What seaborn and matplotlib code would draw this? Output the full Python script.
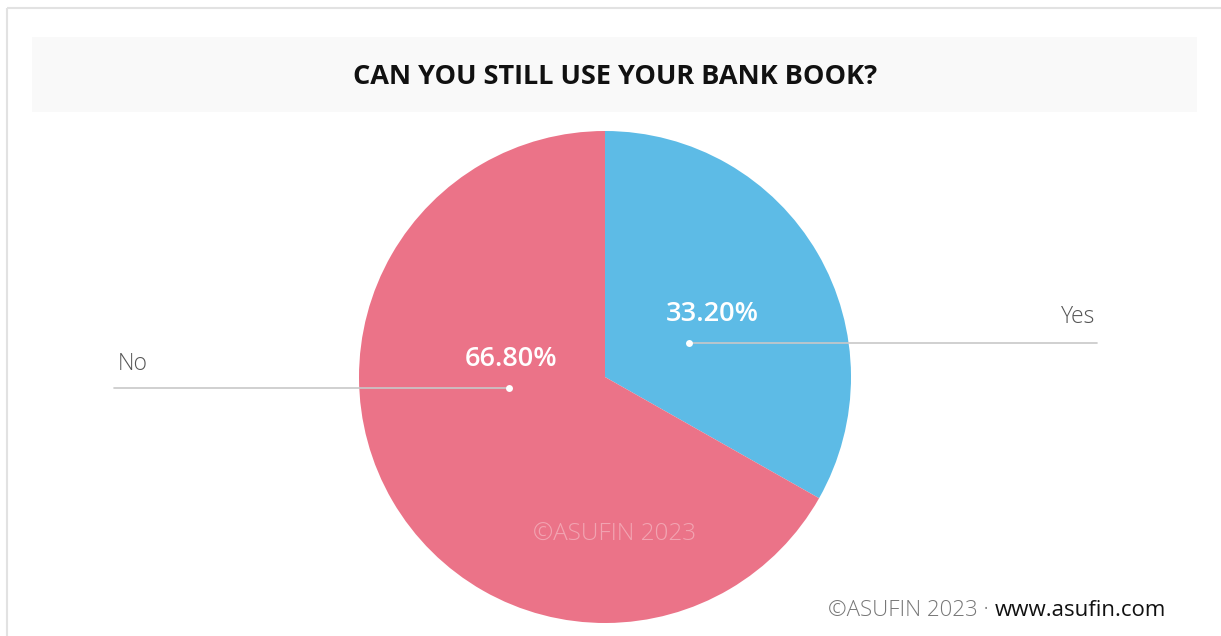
import numpy as np
import matplotlib
matplotlib.use("Agg")
import matplotlib.pyplot as plt
import seaborn as sns
from matplotlib.patches import Rectangle

# Survey answers
categories = ["Yes", "No"]
shares = [33.20, 66.80]
pct_labels = ["33.20%", "66.80%"]
title = "CAN YOU STILL USE YOUR BANK BOOK?"
watermark = "©ASUFIN 2023"
footer_left = "©ASUFIN 2023 · "
footer_right = "www.asufin.com"

sns.set_theme(style="white")
plt.rcParams["font.family"] = ["Open Sans", "DejaVu Sans"]

colors = ["#5dbbe6", "#eb7388"]

W, H = 1221, 636
fig = plt.figure(figsize=(W / 100, H / 100), dpi=100)
ax = fig.add_axes([0, 0, 1, 1])

# pie
cx, cy, R = 605, H - 377, 246
ax.pie(shares, colors=colors, startangle=90, counterclock=False,
       center=(cx, cy), radius=R, frame=True,
       wedgeprops=dict(linewidth=0))
ax.set_xlim(0, W)
ax.set_ylim(0, H)
ax.set_aspect("equal")
ax.axis("off")

# frame lines on top and left
ax.plot([6.5, W], [H - 7.5, H - 7.5], color="#e2e2e2", lw=1.5, solid_capstyle="butt")
ax.plot([6.5, 6.5], [0, H - 7.5], color="#e2e2e2", lw=1.5, solid_capstyle="butt")

# title band
ax.add_patch(Rectangle((32, H - 112), 1165, 75, facecolor="#f9f9f9", edgecolor="none"))
ax.text(615, H - 77, title, ha="center", va="center", fontsize=19.5,
        fontweight="bold", color="#111111")

# leader anchors (angle in degrees, fraction of radius) and label end points
anchors = {"Yes": (22.0, 0.368), "No": (186.5, 0.393)}
line_end = {"Yes": 1097, "No": 114}

for cat, pct in zip(categories, pct_labels):
    ang, frac = anchors[cat]
    px = cx + frac * R * np.cos(np.radians(ang))
    py = cy + frac * R * np.sin(np.radians(ang))
    ax.plot([px, line_end[cat]], [py, py], color="#c8c8c8", lw=1.2, zorder=3)
    ax.plot(px, py, "o", color="white", ms=5, zorder=4, mec="none")
    ax.text(px + (23 if cat == "Yes" else 2), py + 29, pct, ha="center", va="center",
            fontsize=19.5, fontweight="semibold", color="white", zorder=5)
    if cat == "Yes":
        ax.text(line_end[cat] - 2, py + 26, cat, ha="right", va="center",
                fontsize=16.5, fontweight="light", color="#555555")
    else:
        ax.text(line_end[cat] + 4, py + 24, cat, ha="left", va="center",
                fontsize=16.5, fontweight="light", color="#555555")

# watermark
ax.text(615, H - 535, watermark, ha="center", va="center", fontsize=17.5,
        fontweight="light", color="white", alpha=0.35, zorder=5)

# footer
t1 = ax.text(1166, H - 611, footer_right, ha="right", va="center", fontsize=16,
             color="#111111")
fig.canvas.draw()
inv = ax.transData.inverted()
x0 = inv.transform(t1.get_window_extent().p0)[0]
ax.text(x0, H - 611, footer_left, ha="right", va="center", fontsize=16,
        fontweight="light", color="#777777")

fig.savefig("out.png", dpi=100, facecolor="white")
